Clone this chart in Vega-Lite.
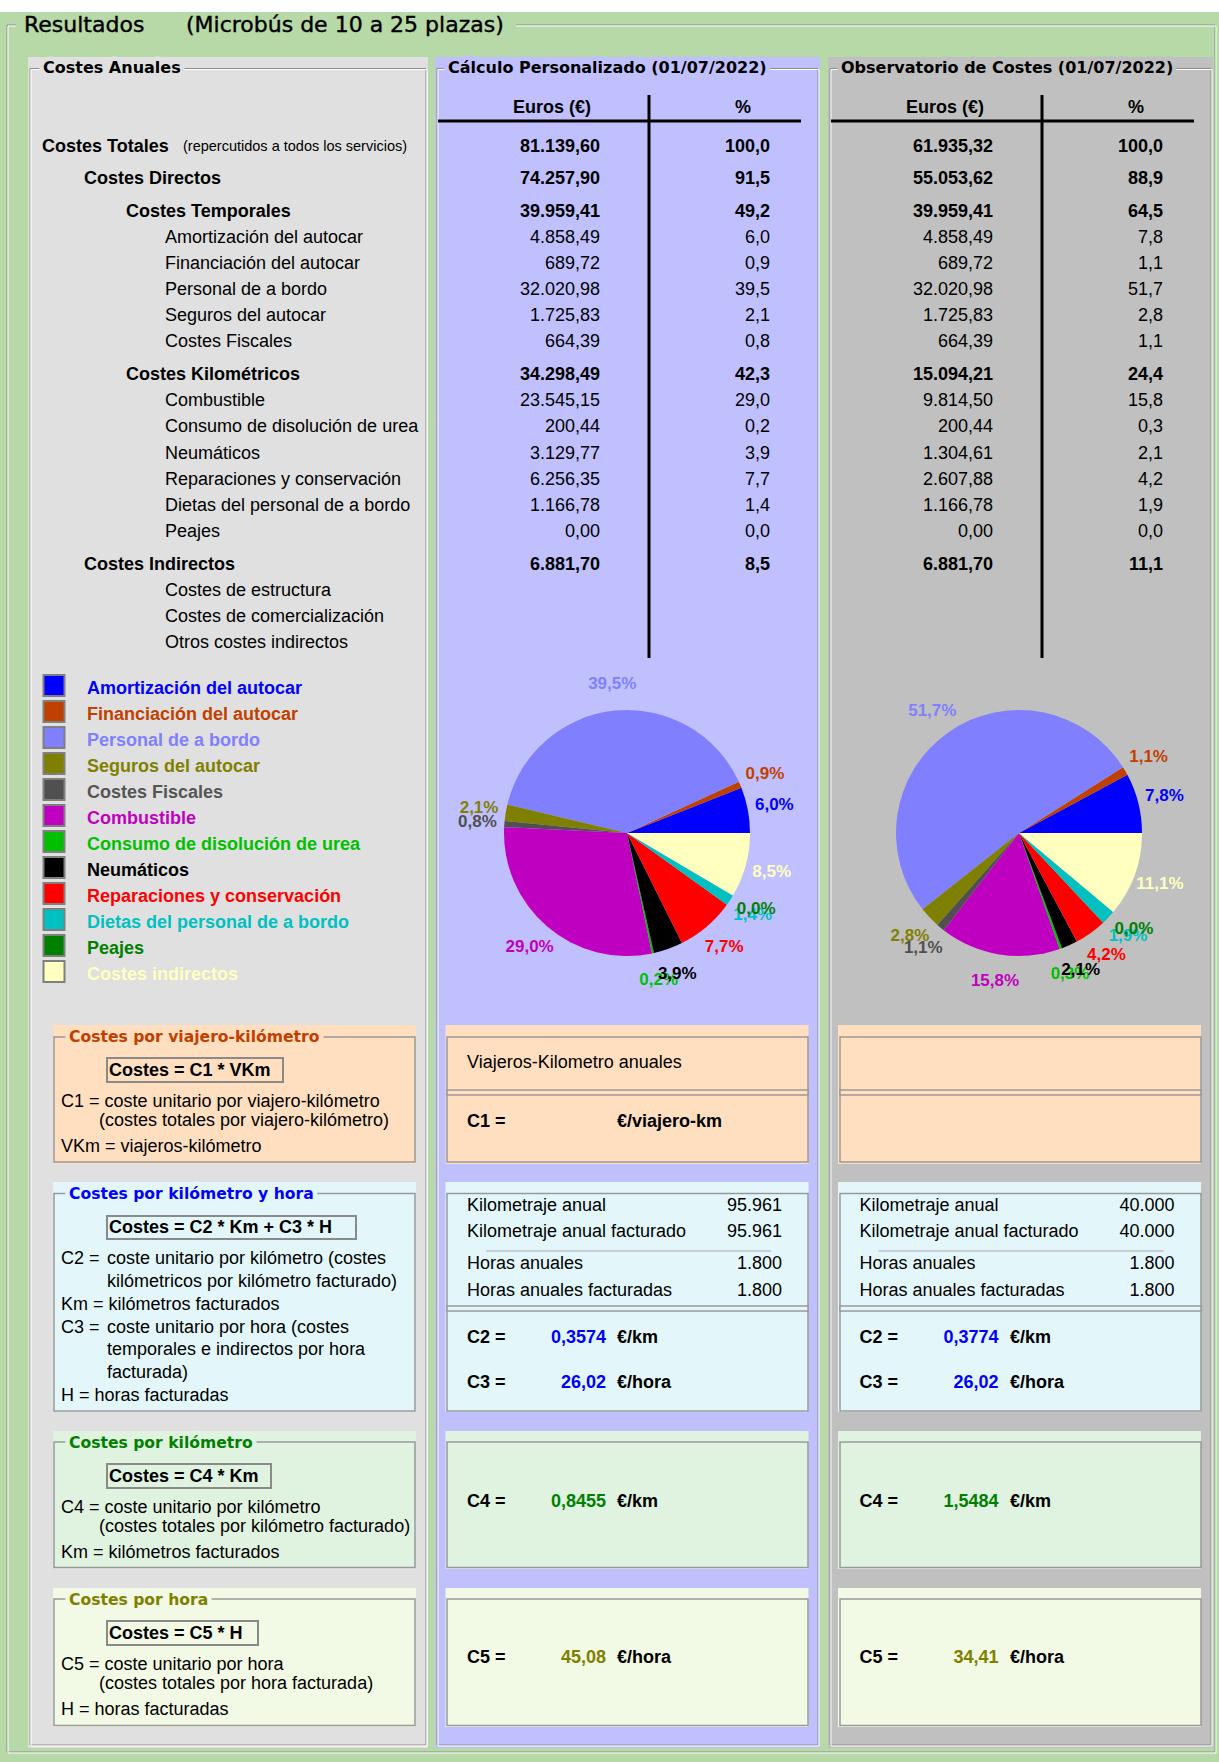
{
  "$schema": "https://vega.github.io/schema/vega-lite/v6.json",
  "width": 1219,
  "height": 1762,
  "padding": 0,
  "autosize": {"type": "none"},
  "background": "#b6d9a7",
  "config": {
    "view": {"stroke": null},
    "axis": {"disable": true},
    "legend": {"disable": true},
    "scale": {"pointPadding": 0},
    "text": {"font": "Liberation Sans", "fontSize": 18, "baseline": "middle"},
    "locale": {"number": {"decimal": ",", "thousands": ".", "grouping": [3], "currency": ["", "%"]}}
  },
  "datasets": {
    "fondo": [{"zona": "formulario"}],
    "titulo": [{"parte": "Resultados"}, {"parte": "(Microbús de 10 a 25 plazas)"}],
    "columnas": [
      {"columna": "anuales", "titulo": "Costes Anuales"},
      {"columna": "calc", "titulo": "Cálculo Personalizado (01/07/2022)"},
      {"columna": "obs", "titulo": "Observatorio de Costes (01/07/2022)"}
    ],
    "paneles": [{"panel": "calc"}, {"panel": "obs"}],
    "encabezados": [
      {"panel": "calc", "medida": "euros", "texto": "Euros (€)"},
      {"panel": "calc", "medida": "pct", "texto": "%"},
      {"panel": "obs", "medida": "euros", "texto": "Euros (€)"},
      {"panel": "obs", "medida": "pct", "texto": "%"}
    ],
    "costes": [
      {"concepto": "Costes Totales", "nivel": 0, "euros_calc": 81139.60, "pct_calc": 100.0, "euros_obs": 61935.32, "pct_obs": 100.0, "nota": "(repercutidos a todos los servicios)"},
      {"concepto": "Costes Directos", "nivel": 1, "euros_calc": 74257.90, "pct_calc": 91.5, "euros_obs": 55053.62, "pct_obs": 88.9},
      {"concepto": "Costes Temporales", "nivel": 2, "euros_calc": 39959.41, "pct_calc": 49.2, "euros_obs": 39959.41, "pct_obs": 64.5},
      {"concepto": "Amortización del autocar", "nivel": 3, "euros_calc": 4858.49, "pct_calc": 6.0, "euros_obs": 4858.49, "pct_obs": 7.8},
      {"concepto": "Financiación del autocar", "nivel": 3, "euros_calc": 689.72, "pct_calc": 0.9, "euros_obs": 689.72, "pct_obs": 1.1},
      {"concepto": "Personal de a bordo", "nivel": 3, "euros_calc": 32020.98, "pct_calc": 39.5, "euros_obs": 32020.98, "pct_obs": 51.7},
      {"concepto": "Seguros del autocar", "nivel": 3, "euros_calc": 1725.83, "pct_calc": 2.1, "euros_obs": 1725.83, "pct_obs": 2.8},
      {"concepto": "Costes Fiscales", "nivel": 3, "euros_calc": 664.39, "pct_calc": 0.8, "euros_obs": 664.39, "pct_obs": 1.1},
      {"concepto": "Costes Kilométricos", "nivel": 2, "euros_calc": 34298.49, "pct_calc": 42.3, "euros_obs": 15094.21, "pct_obs": 24.4},
      {"concepto": "Combustible", "nivel": 3, "euros_calc": 23545.15, "pct_calc": 29.0, "euros_obs": 9814.50, "pct_obs": 15.8},
      {"concepto": "Consumo de disolución de urea", "nivel": 3, "euros_calc": 200.44, "pct_calc": 0.2, "euros_obs": 200.44, "pct_obs": 0.3},
      {"concepto": "Neumáticos", "nivel": 3, "euros_calc": 3129.77, "pct_calc": 3.9, "euros_obs": 1304.61, "pct_obs": 2.1},
      {"concepto": "Reparaciones y conservación", "nivel": 3, "euros_calc": 6256.35, "pct_calc": 7.7, "euros_obs": 2607.88, "pct_obs": 4.2},
      {"concepto": "Dietas del personal de a bordo", "nivel": 3, "euros_calc": 1166.78, "pct_calc": 1.4, "euros_obs": 1166.78, "pct_obs": 1.9},
      {"concepto": "Peajes", "nivel": 3, "euros_calc": 0, "pct_calc": 0.0, "euros_obs": 0, "pct_obs": 0.0},
      {"concepto": "Costes Indirectos", "nivel": 1, "euros_calc": 6881.70, "pct_calc": 8.5, "euros_obs": 6881.70, "pct_obs": 11.1},
      {"concepto": "Costes de estructura", "nivel": 3, "euros_calc": null, "pct_calc": null, "euros_obs": null, "pct_obs": null},
      {"concepto": "Costes de comercialización", "nivel": 3, "euros_calc": null, "pct_calc": null, "euros_obs": null, "pct_obs": null},
      {"concepto": "Otros costes indirectos", "nivel": 3, "euros_calc": null, "pct_calc": null, "euros_obs": null, "pct_obs": null}
    ],
    "sectores": [
      {"categoria": "Amortización del autocar", "orden": 1, "euros_calc": 4858.49, "pct_calc": 6.0, "euros_obs": 4858.49, "pct_obs": 7.8},
      {"categoria": "Financiación del autocar", "orden": 2, "euros_calc": 689.72, "pct_calc": 0.9, "euros_obs": 689.72, "pct_obs": 1.1},
      {"categoria": "Personal de a bordo", "orden": 3, "euros_calc": 32020.98, "pct_calc": 39.5, "euros_obs": 32020.98, "pct_obs": 51.7},
      {"categoria": "Seguros del autocar", "orden": 4, "euros_calc": 1725.83, "pct_calc": 2.1, "euros_obs": 1725.83, "pct_obs": 2.8},
      {"categoria": "Costes Fiscales", "orden": 5, "euros_calc": 664.39, "pct_calc": 0.8, "euros_obs": 664.39, "pct_obs": 1.1},
      {"categoria": "Combustible", "orden": 6, "euros_calc": 23545.15, "pct_calc": 29.0, "euros_obs": 9814.50, "pct_obs": 15.8},
      {"categoria": "Consumo de disolución de urea", "orden": 7, "euros_calc": 200.44, "pct_calc": 0.2, "euros_obs": 200.44, "pct_obs": 0.3},
      {"categoria": "Neumáticos", "orden": 8, "euros_calc": 3129.77, "pct_calc": 3.9, "euros_obs": 1304.61, "pct_obs": 2.1},
      {"categoria": "Reparaciones y conservación", "orden": 9, "euros_calc": 6256.35, "pct_calc": 7.7, "euros_obs": 2607.88, "pct_obs": 4.2},
      {"categoria": "Dietas del personal de a bordo", "orden": 10, "euros_calc": 1166.78, "pct_calc": 1.4, "euros_obs": 1166.78, "pct_obs": 1.9},
      {"categoria": "Peajes", "orden": 11, "euros_calc": 0, "pct_calc": 0.0, "euros_obs": 0, "pct_obs": 0.0},
      {"categoria": "Costes indirectos", "orden": 12, "euros_calc": 6881.70, "pct_calc": 8.5, "euros_obs": 6881.70, "pct_obs": 11.1}
    ],
    "cajas": [
      {"caja": "viajero-km", "columna": "izq"}, {"caja": "viajero-km", "columna": "centro"}, {"caja": "viajero-km", "columna": "der"},
      {"caja": "km-hora", "columna": "izq"}, {"caja": "km-hora", "columna": "centro"}, {"caja": "km-hora", "columna": "der"},
      {"caja": "km", "columna": "izq"}, {"caja": "km", "columna": "centro"}, {"caja": "km", "columna": "der"},
      {"caja": "hora", "columna": "izq"}, {"caja": "hora", "columna": "centro"}, {"caja": "hora", "columna": "der"}
    ],
    "cajas_info": [
      {"caja": "viajero-km", "titulo": "Costes por viajero-kilómetro", "formula": "Costes = C1 * VKm"},
      {"caja": "km-hora", "titulo": "Costes por kilómetro y hora", "formula": "Costes = C2 * Km + C3 * H"},
      {"caja": "km", "titulo": "Costes por kilómetro", "formula": "Costes = C4 * Km"},
      {"caja": "hora", "titulo": "Costes por hora", "formula": "Costes = C5 * H"}
    ],
    "descripciones": [
      {"caja": "viajero-km", "linea": 1, "texto": "C1 = coste unitario por viajero-kilómetro"},
      {"caja": "viajero-km", "linea": 2, "texto": "(costes totales por viajero-kilómetro)"},
      {"caja": "viajero-km", "linea": 3, "texto": "VKm = viajeros-kilómetro"},
      {"caja": "km", "linea": 1, "texto": "C4 = coste unitario por kilómetro"},
      {"caja": "km", "linea": 2, "texto": "(costes totales por kilómetro facturado)"},
      {"caja": "km", "linea": 3, "texto": "Km = kilómetros facturados"},
      {"caja": "hora", "linea": 1, "texto": "C5 = coste unitario por hora"},
      {"caja": "hora", "linea": 2, "texto": "(costes totales por hora facturada)"},
      {"caja": "hora", "linea": 3, "texto": "H = horas facturadas"}
    ],
    "descripcion_km_hora": [
      {"renglon": 1, "sangria": "margen", "texto": "C2 ="},
      {"renglon": 1, "sangria": "definicion", "texto": "coste unitario por kilómetro (costes"},
      {"renglon": 2, "sangria": "definicion", "texto": "kilómetricos por kilómetro facturado)"},
      {"renglon": 3, "sangria": "margen", "texto": "Km = kilómetros facturados"},
      {"renglon": 4, "sangria": "margen", "texto": "C3 ="},
      {"renglon": 4, "sangria": "definicion", "texto": "coste unitario por hora (costes"},
      {"renglon": 5, "sangria": "definicion", "texto": "temporales e indirectos por hora"},
      {"renglon": 6, "sangria": "definicion", "texto": "facturada)"},
      {"renglon": 7, "sangria": "margen", "texto": "H = horas facturadas"}
    ],
    "actividad": [
      {"panel": "calc", "concepto": "Viajeros-Kilometro anuales", "valor": null},
      {"panel": "calc", "concepto": "Kilometraje anual", "valor": 95961},
      {"panel": "calc", "concepto": "Kilometraje anual facturado", "valor": 95961},
      {"panel": "calc", "concepto": "Horas anuales", "valor": 1800},
      {"panel": "calc", "concepto": "Horas anuales facturadas", "valor": 1800},
      {"panel": "obs", "concepto": "Kilometraje anual", "valor": 40000},
      {"panel": "obs", "concepto": "Kilometraje anual facturado", "valor": 40000},
      {"panel": "obs", "concepto": "Horas anuales", "valor": 1800},
      {"panel": "obs", "concepto": "Horas anuales facturadas", "valor": 1800}
    ],
    "costes_unitarios": [
      {"panel": "calc", "coef": "C1", "etiqueta": "C1 =", "valor": null, "unidad": "€/viajero-km"},
      {"panel": "calc", "coef": "C2", "etiqueta": "C2 =", "valor": 0.3574, "unidad": "€/km"},
      {"panel": "calc", "coef": "C3", "etiqueta": "C3 =", "valor": 26.02, "unidad": "€/hora"},
      {"panel": "calc", "coef": "C4", "etiqueta": "C4 =", "valor": 0.8455, "unidad": "€/km"},
      {"panel": "calc", "coef": "C5", "etiqueta": "C5 =", "valor": 45.08, "unidad": "€/hora"},
      {"panel": "obs", "coef": "C2", "etiqueta": "C2 =", "valor": 0.3774, "unidad": "€/km"},
      {"panel": "obs", "coef": "C3", "etiqueta": "C3 =", "valor": 26.02, "unidad": "€/hora"},
      {"panel": "obs", "coef": "C4", "etiqueta": "C4 =", "valor": 1.5484, "unidad": "€/km"},
      {"panel": "obs", "coef": "C5", "etiqueta": "C5 =", "valor": 34.41, "unidad": "€/hora"}
    ]
  },
  "resolve": {"scale": {"x": "independent", "y": "independent", "color": "independent", "fill": "independent", "stroke": "independent", "theta": "independent", "radius": "independent"}},
  "layer": [
    {"data": {"name": "fondo"}, "mark": {"type": "rect", "fill": "#ffffff"},
     "encoding": {"y": {"field": "zona", "type": "nominal", "scale": {"type": "band", "domain": ["formulario"], "range": [0, 12], "paddingInner": 0, "paddingOuter": 0}}}},
    {"data": {"name": "fondo"}, "mark": {"type": "rect", "filled": false, "stroke": "#8c8c8c", "strokeWidth": 1},
     "encoding": {"x": {"field": "zona", "type": "nominal", "scale": {"type": "band", "domain": ["formulario"], "range": [7, 1215], "paddingInner": 0, "paddingOuter": 0}},
                  "y": {"field": "zona", "type": "nominal", "scale": {"type": "band", "domain": ["formulario"], "range": [25, 1752], "paddingInner": 0, "paddingOuter": 0}}}},
    {"data": {"name": "fondo"}, "mark": {"type": "rect", "filled": false, "stroke": "#ffffff", "strokeWidth": 1},
     "encoding": {"x": {"field": "zona", "type": "nominal", "scale": {"type": "band", "domain": ["formulario"], "range": [8, 1216], "paddingInner": 0, "paddingOuter": 0}},
                  "y": {"field": "zona", "type": "nominal", "scale": {"type": "band", "domain": ["formulario"], "range": [26, 1753], "paddingInner": 0, "paddingOuter": 0}}}},
    {"data": {"name": "fondo"}, "mark": {"type": "rect", "fill": "#b6d9a7"},
     "encoding": {"x": {"field": "zona", "type": "nominal", "scale": {"type": "band", "domain": ["formulario"], "range": [16, 516], "paddingInner": 0, "paddingOuter": 0}},
                  "y": {"field": "zona", "type": "nominal", "scale": {"type": "band", "domain": ["formulario"], "range": [14, 37], "paddingInner": 0, "paddingOuter": 0}}}},
    {"data": {"name": "titulo"}, "mark": {"type": "text", "font": "DejaVu Sans", "fontSize": 22, "align": "left", "fill": "#000000", "stroke": "#000000", "strokeWidth": 0.4},
     "encoding": {"x": {"field": "parte", "type": "nominal", "scale": {"type": "point", "padding": 0, "domain": ["Resultados", "(Microbús de 10 a 25 plazas)"], "range": [24, 186]}},
                  "y": {"field": "parte", "type": "nominal", "scale": {"type": "point", "padding": 0, "domain": ["Resultados", "(Microbús de 10 a 25 plazas)"], "range": [25, 25]}},
                  "text": {"field": "parte", "type": "nominal"}}},

    {"data": {"name": "columnas"}, "transform": [{"filter": "datum.columna === 'anuales'"}], "mark": {"type": "rect", "fill": "#e0e0e0"},
     "encoding": {"x": {"field": "columna", "type": "nominal", "scale": {"type": "band", "domain": ["anuales"], "range": [28, 428], "paddingInner": 0, "paddingOuter": 0}},
                  "y": {"datum": "panel", "type": "nominal", "scale": {"type": "band", "domain": ["panel"], "range": [57, 1748], "paddingInner": 0, "paddingOuter": 0}}}},
    {"data": {"name": "columnas"}, "transform": [{"filter": "datum.columna !== 'anuales'"}], "mark": {"type": "rect"},
     "encoding": {"x": {"field": "columna", "type": "nominal", "scale": {"type": "band", "domain": ["calc", "obs"], "range": [435, 1213], "paddingInner": 0.020356, "paddingOuter": 0}},
                  "y": {"datum": "panel", "type": "nominal", "scale": {"type": "band", "domain": ["panel"], "range": [57, 1748], "paddingInner": 0, "paddingOuter": 0}},
                  "fill": {"field": "columna", "type": "nominal", "scale": {"domain": ["calc", "obs"], "range": ["#c0c0ff", "#c0c0c0"]}, "legend": null}}},
    {"data": {"name": "columnas"}, "transform": [{"filter": "datum.columna === 'anuales'"}], "mark": {"type": "rect", "filled": false, "stroke": "#8c8c8c", "strokeWidth": 1},
     "encoding": {"x": {"field": "columna", "type": "nominal", "scale": {"type": "band", "domain": ["anuales"], "range": [30, 426], "paddingInner": 0, "paddingOuter": 0}},
                  "y": {"datum": "marco", "type": "nominal", "scale": {"type": "band", "domain": ["marco"], "range": [68.5, 1745], "paddingInner": 0, "paddingOuter": 0}}}},
    {"data": {"name": "columnas"}, "transform": [{"filter": "datum.columna === 'anuales'"}], "mark": {"type": "rect", "filled": false, "stroke": "#ffffff", "strokeWidth": 1},
     "encoding": {"x": {"field": "columna", "type": "nominal", "scale": {"type": "band", "domain": ["anuales"], "range": [31, 427], "paddingInner": 0, "paddingOuter": 0}},
                  "y": {"datum": "marco", "type": "nominal", "scale": {"type": "band", "domain": ["marco"], "range": [69.5, 1746], "paddingInner": 0, "paddingOuter": 0}}}},
    {"data": {"name": "columnas"}, "transform": [{"filter": "datum.columna !== 'anuales'"}], "mark": {"type": "rect", "filled": false, "stroke": "#8c8c8c", "strokeWidth": 1},
     "encoding": {"x": {"field": "columna", "type": "nominal", "scale": {"type": "band", "domain": ["calc", "obs"], "range": [437, 1211], "paddingInner": 0.030534, "paddingOuter": 0}},
                  "y": {"datum": "marco", "type": "nominal", "scale": {"type": "band", "domain": ["marco"], "range": [68.5, 1745], "paddingInner": 0, "paddingOuter": 0}}}},
    {"data": {"name": "columnas"}, "transform": [{"filter": "datum.columna !== 'anuales'"}], "mark": {"type": "rect", "filled": false, "stroke": "#ffffff", "strokeWidth": 1},
     "encoding": {"x": {"field": "columna", "type": "nominal", "scale": {"type": "band", "domain": ["calc", "obs"], "range": [438, 1212], "paddingInner": 0.030534, "paddingOuter": 0}},
                  "y": {"datum": "marco", "type": "nominal", "scale": {"type": "band", "domain": ["marco"], "range": [69.5, 1746], "paddingInner": 0, "paddingOuter": 0}}}},
    {"data": {"name": "columnas"}, "transform": [{"filter": "datum.columna === 'anuales'"}],
     "encoding": {"x": {"field": "columna", "type": "nominal", "scale": {"type": "point", "padding": 0, "domain": ["anuales"], "range": [43, 43]}},
                  "y": {"field": "columna", "type": "nominal", "scale": {"type": "point", "padding": 0, "domain": ["anuales"], "range": [68, 68]}},
                  "text": {"field": "titulo", "type": "nominal"}},
     "layer": [
       {"mark": {"type": "text", "font": "DejaVu Sans", "fontSize": 16, "fontWeight": "bold", "align": "left", "fill": "#e0e0e0", "stroke": "#e0e0e0", "strokeWidth": 9, "strokeJoin": "round"}},
       {"mark": {"type": "text", "font": "DejaVu Sans", "fontSize": 16, "fontWeight": "bold", "align": "left", "fill": "#000000"}}
     ]},
    {"data": {"name": "columnas"}, "transform": [{"filter": "datum.columna !== 'anuales'"}],
     "encoding": {"x": {"field": "columna", "type": "nominal", "scale": {"type": "point", "padding": 0, "domain": ["calc", "obs"], "range": [448, 841]}},
                  "y": {"field": "columna", "type": "nominal", "scale": {"type": "point", "padding": 0, "domain": ["calc", "obs"], "range": [68, 68]}},
                  "text": {"field": "titulo", "type": "nominal"}},
     "layer": [
       {"mark": {"type": "text", "font": "DejaVu Sans", "fontSize": 16, "fontWeight": "bold", "align": "left", "strokeWidth": 9, "strokeJoin": "round"},
        "encoding": {"fill": {"field": "columna", "type": "nominal", "scale": {"domain": ["calc", "obs"], "range": ["#c0c0ff", "#c0c0c0"]}, "legend": null},
                     "stroke": {"field": "columna", "type": "nominal", "scale": {"domain": ["calc", "obs"], "range": ["#c0c0ff", "#c0c0c0"]}, "legend": null}}},
       {"mark": {"type": "text", "font": "DejaVu Sans", "fontSize": 16, "fontWeight": "bold", "align": "left", "fill": "#000000"}}
     ]},

    {"data": {"name": "encabezados"},
     "encoding": {"y": {"field": "medida", "type": "nominal", "scale": {"type": "point", "padding": 0, "domain": ["euros", "pct"], "range": [108, 108]}},
                  "text": {"field": "texto", "type": "nominal"}},
     "layer": [
       {"transform": [{"filter": "datum.medida === 'euros'"}], "mark": {"type": "text", "fontWeight": "bold", "align": "center"},
        "encoding": {"x": {"field": "panel", "type": "nominal", "scale": {"type": "point", "padding": 0, "domain": ["calc", "obs"], "range": [552, 945]}}}},
       {"transform": [{"filter": "datum.medida === 'pct'"}], "mark": {"type": "text", "fontWeight": "bold", "align": "center"},
        "encoding": {"x": {"field": "panel", "type": "nominal", "scale": {"type": "point", "padding": 0, "domain": ["calc", "obs"], "range": [743, 1136]}}}}
     ],
     "resolve": {"scale": {"x": "independent"}}},
    {"data": {"name": "paneles"}, "mark": {"type": "rect", "fill": "#000000"},
     "encoding": {"x": {"field": "panel", "type": "nominal", "scale": {"type": "band", "domain": ["calc", "obs"], "range": [438, 1194], "paddingInner": 0.076336, "paddingOuter": 0}},
                  "y": {"datum": "cabecera", "type": "nominal", "scale": {"type": "band", "domain": ["cabecera"], "range": [119.5, 122.5], "paddingInner": 0, "paddingOuter": 0}}}},
    {"data": {"name": "paneles"}, "mark": {"type": "rect", "fill": "#000000"},
     "encoding": {"x": {"field": "panel", "type": "nominal", "scale": {"type": "band", "domain": ["calc", "obs"], "range": [647.5, 1043.5], "paddingInner": 0.992366, "paddingOuter": 0}},
                  "y": {"datum": "columna", "type": "nominal", "scale": {"type": "band", "domain": ["columna"], "range": [95, 658], "paddingInner": 0, "paddingOuter": 0}}}},

    {"data": {"name": "costes"},
     "encoding": {"y": {"field": "concepto", "type": "nominal", "scale": {"type": "point", "padding": 0, "range": [146.5, 643], "domain": ["Costes Totales","·1","·2","·3","·4","Costes Directos","·6","·7","·8","·9","Costes Temporales","·11","·12","·13","Amortización del autocar","·15","·16","·17","Financiación del autocar","·19","·20","·21","Personal de a bordo","·23","·24","·25","Seguros del autocar","·27","·28","·29","Costes Fiscales","·31","·32","·33","·34","Costes Kilométricos","·36","·37","·38","Combustible","·40","·41","·42","Consumo de disolución de urea","·44","·45","·46","Neumáticos","·48","·49","·50","Reparaciones y conservación","·52","·53","·54","Dietas del personal de a bordo","·56","·57","·58","Peajes","·60","·61","·62","·63","Costes Indirectos","·65","·66","·67","Costes de estructura","·69","·70","·71","Costes de comercialización","·73","·74","·75","Otros costes indirectos"]}}},
     "layer": [
       {"transform": [{"filter": "datum.nivel < 3"}], "mark": {"type": "text", "fontWeight": "bold", "align": "left"},
        "encoding": {"x": {"field": "nivel", "type": "nominal", "scale": {"type": "point", "padding": 0, "domain": [0, 1, 2], "range": [42, 126]}}, "text": {"field": "concepto", "type": "nominal"}}},
       {"transform": [{"filter": "datum.nivel === 3"}], "mark": {"type": "text", "align": "left"},
        "encoding": {"x": {"field": "nivel", "type": "nominal", "scale": {"type": "point", "padding": 0, "domain": [3], "range": [165, 165]}}, "text": {"field": "concepto", "type": "nominal"}}},
       {"transform": [{"filter": "isValid(datum.nota)"}], "mark": {"type": "text", "align": "left", "fontSize": 14.5},
        "encoding": {"x": {"field": "nota", "type": "nominal", "scale": {"type": "point", "padding": 0, "domain": ["(repercutidos a todos los servicios)"], "range": [183, 183]}}, "text": {"field": "nota", "type": "nominal"}}},
       {"transform": [{"fold": ["euros_calc", "euros_obs"], "as": ["medida", "valor"]}, {"filter": {"field": "valor", "valid": true}}, {"filter": "datum.nivel < 3"}],
        "mark": {"type": "text", "fontWeight": "bold", "align": "right"},
        "encoding": {"x": {"field": "medida", "type": "nominal", "scale": {"type": "point", "padding": 0, "domain": ["euros_calc", "euros_obs"], "range": [600, 993]}}, "text": {"field": "valor", "type": "quantitative", "format": ",.2f"}}},
       {"transform": [{"fold": ["euros_calc", "euros_obs"], "as": ["medida", "valor"]}, {"filter": {"field": "valor", "valid": true}}, {"filter": "datum.nivel === 3"}],
        "mark": {"type": "text", "align": "right"},
        "encoding": {"x": {"field": "medida", "type": "nominal", "scale": {"type": "point", "padding": 0, "domain": ["euros_calc", "euros_obs"], "range": [600, 993]}}, "text": {"field": "valor", "type": "quantitative", "format": ",.2f"}}},
       {"transform": [{"fold": ["pct_calc", "pct_obs"], "as": ["medida", "valor"]}, {"filter": {"field": "valor", "valid": true}}, {"filter": "datum.nivel < 3"}],
        "mark": {"type": "text", "fontWeight": "bold", "align": "right"},
        "encoding": {"x": {"field": "medida", "type": "nominal", "scale": {"type": "point", "padding": 0, "domain": ["pct_calc", "pct_obs"], "range": [770, 1163]}}, "text": {"field": "valor", "type": "quantitative", "format": ".1f"}}},
       {"transform": [{"fold": ["pct_calc", "pct_obs"], "as": ["medida", "valor"]}, {"filter": {"field": "valor", "valid": true}}, {"filter": "datum.nivel === 3"}],
        "mark": {"type": "text", "align": "right"},
        "encoding": {"x": {"field": "medida", "type": "nominal", "scale": {"type": "point", "padding": 0, "domain": ["pct_calc", "pct_obs"], "range": [770, 1163]}}, "text": {"field": "valor", "type": "quantitative", "format": ".1f"}}}
     ],
     "resolve": {"scale": {"x": "independent"}}},

    {"data": {"name": "sectores"}, "mark": {"type": "square", "size": 441, "opacity": 1, "filled": true, "stroke": "#7f7f7f", "strokeWidth": 2},
     "encoding": {"x": {"datum": "leyenda", "type": "nominal", "scale": {"type": "point", "padding": 0, "domain": ["leyenda"], "range": [54, 54]}},
                  "y": {"field": "categoria", "type": "nominal", "scale": {"type": "point", "padding": 0, "range": [685.5, 971.5], "domain": ["Amortización del autocar","Financiación del autocar","Personal de a bordo","Seguros del autocar","Costes Fiscales","Combustible","Consumo de disolución de urea","Neumáticos","Reparaciones y conservación","Dietas del personal de a bordo","Peajes","Costes indirectos"]}},
                  "fill": {"field": "categoria", "type": "nominal", "legend": null, "scale": {"domain": ["Amortización del autocar","Financiación del autocar","Personal de a bordo","Seguros del autocar","Costes Fiscales","Combustible","Consumo de disolución de urea","Neumáticos","Reparaciones y conservación","Dietas del personal de a bordo","Peajes","Costes indirectos"], "range": ["#0000ff","#c04000","#8080ff","#808000","#505050","#c000c0","#00c000","#000000","#ff0000","#00c0c0","#008000","#ffffc0"]}}}},
    {"data": {"name": "sectores"}, "mark": {"type": "text", "fontWeight": "bold", "align": "left"},
     "encoding": {"x": {"datum": "leyenda", "type": "nominal", "scale": {"type": "point", "padding": 0, "domain": ["leyenda"], "range": [87, 87]}},
                  "y": {"field": "categoria", "type": "nominal", "scale": {"type": "point", "padding": 0, "range": [689, 975], "domain": ["Amortización del autocar","Financiación del autocar","Personal de a bordo","Seguros del autocar","Costes Fiscales","Combustible","Consumo de disolución de urea","Neumáticos","Reparaciones y conservación","Dietas del personal de a bordo","Peajes","Costes indirectos"]}},
                  "text": {"field": "categoria", "type": "nominal"},
                  "color": {"field": "categoria", "type": "nominal", "legend": null, "scale": {"domain": ["Amortización del autocar","Financiación del autocar","Personal de a bordo","Seguros del autocar","Costes Fiscales","Combustible","Consumo de disolución de urea","Neumáticos","Reparaciones y conservación","Dietas del personal de a bordo","Peajes","Costes indirectos"], "range": ["#0000ff","#c04000","#8080ff","#808000","#555555","#c000c0","#00c000","#000000","#ff0000","#00c0c0","#008000","#ffffc0"]}}}},

    {"data": {"name": "sectores"},
     "encoding": {"theta": {"field": "euros_calc", "type": "quantitative", "stack": "normalize", "scale": {"type": "linear", "domain": [0, 1], "range": [1.5707963, -4.712389]}},
                  "order": {"field": "orden", "type": "quantitative"},
                  "color": {"field": "categoria", "type": "nominal", "legend": null, "scale": {"domain": ["Amortización del autocar","Financiación del autocar","Personal de a bordo","Seguros del autocar","Costes Fiscales","Combustible","Consumo de disolución de urea","Neumáticos","Reparaciones y conservación","Dietas del personal de a bordo","Peajes","Costes indirectos"], "range": ["#0000ff","#c04000","#8080ff","#808000","#505050","#c000c0","#00c000","#000000","#ff0000","#00c0c0","#008000","#ffffc0"]}},
                  "x": {"datum": "calc", "type": "nominal", "scale": {"type": "point", "padding": 0, "domain": ["calc"], "range": [627, 627]}},
                  "y": {"datum": "tarta", "type": "nominal", "scale": {"type": "point", "padding": 0, "domain": ["tarta"], "range": [833, 833]}}},
     "layer": [
       {"mark": {"type": "arc", "outerRadius": 123}},
       {"mark": {"type": "text", "radius": 150, "fontSize": 17, "fontWeight": "bold", "align": "center"},
        "encoding": {"text": {"field": "pct_calc", "type": "quantitative", "format": "$.1f"}}}
     ]},
    {"data": {"name": "sectores"},
     "encoding": {"theta": {"field": "euros_obs", "type": "quantitative", "stack": "normalize", "scale": {"type": "linear", "domain": [0, 1], "range": [1.5707963, -4.712389]}},
                  "order": {"field": "orden", "type": "quantitative"},
                  "color": {"field": "categoria", "type": "nominal", "legend": null, "scale": {"domain": ["Amortización del autocar","Financiación del autocar","Personal de a bordo","Seguros del autocar","Costes Fiscales","Combustible","Consumo de disolución de urea","Neumáticos","Reparaciones y conservación","Dietas del personal de a bordo","Peajes","Costes indirectos"], "range": ["#0000ff","#c04000","#8080ff","#808000","#505050","#c000c0","#00c000","#000000","#ff0000","#00c0c0","#008000","#ffffc0"]}},
                  "x": {"datum": "obs", "type": "nominal", "scale": {"type": "point", "padding": 0, "domain": ["obs"], "range": [1019, 1019]}},
                  "y": {"datum": "tarta", "type": "nominal", "scale": {"type": "point", "padding": 0, "domain": ["tarta"], "range": [833, 833]}}},
     "layer": [
       {"mark": {"type": "arc", "outerRadius": 123}},
       {"mark": {"type": "text", "radius": 150, "fontSize": 17, "fontWeight": "bold", "align": "center"},
        "encoding": {"text": {"field": "pct_obs", "type": "quantitative", "format": "$.1f"}}}
     ]},

    {"data": {"name": "cajas"}, "transform": [{"filter": "datum.caja === 'viajero-km'"}], "mark": {"type": "rect", "fill": "#ffdfc0"},
     "encoding": {"x": {"field": "columna", "type": "nominal", "scale": {"type": "band", "domain": ["izq", "centro", "der"], "range": [53, 1201], "paddingInner": 0.07516, "paddingOuter": 0}},
                  "y": {"field": "caja", "type": "nominal", "scale": {"type": "band", "domain": ["viajero-km"], "range": [1025, 1164], "paddingInner": 0, "paddingOuter": 0}}}},
    {"data": {"name": "cajas"}, "transform": [{"filter": "datum.caja === 'km-hora'"}], "mark": {"type": "rect", "fill": "#e3f7fb"},
     "encoding": {"x": {"field": "columna", "type": "nominal", "scale": {"type": "band", "domain": ["izq", "centro", "der"], "range": [53, 1201], "paddingInner": 0.07516, "paddingOuter": 0}},
                  "y": {"field": "caja", "type": "nominal", "scale": {"type": "band", "domain": ["km-hora"], "range": [1182, 1412], "paddingInner": 0, "paddingOuter": 0}}}},
    {"data": {"name": "cajas"}, "transform": [{"filter": "datum.caja === 'km'"}], "mark": {"type": "rect", "fill": "#e0f2e0"},
     "encoding": {"x": {"field": "columna", "type": "nominal", "scale": {"type": "band", "domain": ["izq", "centro", "der"], "range": [53, 1201], "paddingInner": 0.07516, "paddingOuter": 0}},
                  "y": {"field": "caja", "type": "nominal", "scale": {"type": "band", "domain": ["km"], "range": [1431, 1569], "paddingInner": 0, "paddingOuter": 0}}}},
    {"data": {"name": "cajas"}, "transform": [{"filter": "datum.caja === 'hora'"}], "mark": {"type": "rect", "fill": "#f2f9e4"},
     "encoding": {"x": {"field": "columna", "type": "nominal", "scale": {"type": "band", "domain": ["izq", "centro", "der"], "range": [53, 1201], "paddingInner": 0.07516, "paddingOuter": 0}},
                  "y": {"field": "caja", "type": "nominal", "scale": {"type": "band", "domain": ["hora"], "range": [1588, 1727], "paddingInner": 0, "paddingOuter": 0}}}},

    {"data": {"name": "cajas"}, "transform": [{"filter": "datum.caja === 'viajero-km'"}], "mark": {"type": "rect", "filled": false, "stroke": "#999999", "strokeWidth": 1.5},
     "encoding": {"x": {"field": "columna", "type": "nominal", "scale": {"type": "band", "domain": ["izq", "centro", "der"], "range": [54, 1201], "paddingInner": 0.081425, "paddingOuter": 0}},
                  "y": {"field": "caja", "type": "nominal", "scale": {"type": "band", "domain": ["viajero-km"], "range": [1037, 1162], "paddingInner": 0, "paddingOuter": 0}}}},
    {"data": {"name": "cajas"}, "transform": [{"filter": "datum.caja === 'km-hora'"}], "mark": {"type": "rect", "filled": false, "stroke": "#999999", "strokeWidth": 1.5},
     "encoding": {"x": {"field": "columna", "type": "nominal", "scale": {"type": "band", "domain": ["izq", "centro", "der"], "range": [54, 1201], "paddingInner": 0.081425, "paddingOuter": 0}},
                  "y": {"field": "caja", "type": "nominal", "scale": {"type": "band", "domain": ["km-hora"], "range": [1193.5, 1411], "paddingInner": 0, "paddingOuter": 0}}}},
    {"data": {"name": "cajas"}, "transform": [{"filter": "datum.caja === 'km'"}], "mark": {"type": "rect", "filled": false, "stroke": "#999999", "strokeWidth": 1.5},
     "encoding": {"x": {"field": "columna", "type": "nominal", "scale": {"type": "band", "domain": ["izq", "centro", "der"], "range": [54, 1201], "paddingInner": 0.081425, "paddingOuter": 0}},
                  "y": {"field": "caja", "type": "nominal", "scale": {"type": "band", "domain": ["km"], "range": [1442, 1567.5], "paddingInner": 0, "paddingOuter": 0}}}},
    {"data": {"name": "cajas"}, "transform": [{"filter": "datum.caja === 'hora'"}], "mark": {"type": "rect", "filled": false, "stroke": "#999999", "strokeWidth": 1.5},
     "encoding": {"x": {"field": "columna", "type": "nominal", "scale": {"type": "band", "domain": ["izq", "centro", "der"], "range": [54, 1201], "paddingInner": 0.081425, "paddingOuter": 0}},
                  "y": {"field": "caja", "type": "nominal", "scale": {"type": "band", "domain": ["hora"], "range": [1599, 1725.5], "paddingInner": 0, "paddingOuter": 0}}}},
    {"data": {"name": "paneles"}, "mark": {"type": "rect", "fill": "#ffdfc0", "stroke": "#999999", "strokeWidth": 1.5},
     "encoding": {"x": {"field": "panel", "type": "nominal", "scale": {"type": "band", "domain": ["calc", "obs"], "range": [447, 1201], "paddingInner": 0.081425, "paddingOuter": 0}},
                  "y": {"datum": "separacion", "type": "nominal", "scale": {"type": "band", "domain": ["separacion"], "range": [1090, 1095], "paddingInner": 0, "paddingOuter": 0}}}},
    {"data": {"name": "paneles"}, "mark": {"type": "rect", "fill": "#e3f7fb", "stroke": "#999999", "strokeWidth": 1.5},
     "encoding": {"x": {"field": "panel", "type": "nominal", "scale": {"type": "band", "domain": ["calc", "obs"], "range": [447, 1201], "paddingInner": 0.081425, "paddingOuter": 0}},
                  "y": {"datum": "separacion", "type": "nominal", "scale": {"type": "band", "domain": ["separacion"], "range": [1306, 1311], "paddingInner": 0, "paddingOuter": 0}}}},

    {"data": {"name": "cajas_info"}, "transform": [{"filter": "datum.caja === 'viajero-km'"}], "mark": {"type": "rect", "filled": false, "stroke": "#8a8a8a", "strokeWidth": 2},
     "encoding": {"x": {"field": "caja", "type": "nominal", "scale": {"type": "band", "domain": ["viajero-km"], "range": [107, 283], "paddingInner": 0, "paddingOuter": 0}},
                  "y": {"field": "caja", "type": "nominal", "scale": {"type": "band", "domain": ["viajero-km"], "range": [1058, 1082], "paddingInner": 0, "paddingOuter": 0}}}},
    {"data": {"name": "cajas_info"}, "transform": [{"filter": "datum.caja === 'km-hora'"}], "mark": {"type": "rect", "filled": false, "stroke": "#8a8a8a", "strokeWidth": 2},
     "encoding": {"x": {"field": "caja", "type": "nominal", "scale": {"type": "band", "domain": ["km-hora"], "range": [107, 356], "paddingInner": 0, "paddingOuter": 0}},
                  "y": {"field": "caja", "type": "nominal", "scale": {"type": "band", "domain": ["km-hora"], "range": [1216, 1239], "paddingInner": 0, "paddingOuter": 0}}}},
    {"data": {"name": "cajas_info"}, "transform": [{"filter": "datum.caja === 'km'"}], "mark": {"type": "rect", "filled": false, "stroke": "#8a8a8a", "strokeWidth": 2},
     "encoding": {"x": {"field": "caja", "type": "nominal", "scale": {"type": "band", "domain": ["km"], "range": [107, 271], "paddingInner": 0, "paddingOuter": 0}},
                  "y": {"field": "caja", "type": "nominal", "scale": {"type": "band", "domain": ["km"], "range": [1464, 1488], "paddingInner": 0, "paddingOuter": 0}}}},
    {"data": {"name": "cajas_info"}, "transform": [{"filter": "datum.caja === 'hora'"}], "mark": {"type": "rect", "filled": false, "stroke": "#8a8a8a", "strokeWidth": 2},
     "encoding": {"x": {"field": "caja", "type": "nominal", "scale": {"type": "band", "domain": ["hora"], "range": [107, 258], "paddingInner": 0, "paddingOuter": 0}},
                  "y": {"field": "caja", "type": "nominal", "scale": {"type": "band", "domain": ["hora"], "range": [1621, 1645], "paddingInner": 0, "paddingOuter": 0}}}},

    {"data": {"name": "cajas_info"},
     "encoding": {"x": {"field": "caja", "type": "nominal", "scale": {"type": "point", "padding": 0, "domain": ["viajero-km", "km-hora", "km", "hora"], "range": [69, 69]}},
                  "y": {"field": "caja", "type": "nominal", "scale": {"type": "point", "padding": 0, "range": [1037, 1600], "domain": ["viajero-km","·1","·2","·3","·4","·5","·6","·7","·8","·9","·10","·11","km-hora","·13","·14","·15","·16","·17","·18","·19","·20","·21","·22","·23","·24","·25","·26","·27","·28","·29","·30","km","·32","·33","·34","·35","·36","·37","·38","·39","·40","·41","·42","hora"]}},
                  "text": {"field": "titulo", "type": "nominal"}},
     "layer": [
       {"mark": {"type": "text", "font": "DejaVu Sans", "fontSize": 15.6, "fontWeight": "bold", "align": "left", "strokeWidth": 9, "strokeJoin": "round"},
        "encoding": {"fill": {"field": "caja", "type": "nominal", "legend": null, "scale": {"domain": ["viajero-km", "km-hora", "km", "hora"], "range": ["#ffdfc0", "#e3f7fb", "#e0f2e0", "#f2f9e4"]}},
                     "stroke": {"field": "caja", "type": "nominal", "legend": null, "scale": {"domain": ["viajero-km", "km-hora", "km", "hora"], "range": ["#ffdfc0", "#e3f7fb", "#e0f2e0", "#f2f9e4"]}}}},
       {"mark": {"type": "text", "font": "DejaVu Sans", "fontSize": 15.6, "fontWeight": "bold", "align": "left"},
        "encoding": {"fill": {"field": "caja", "type": "nominal", "legend": null, "scale": {"domain": ["viajero-km", "km-hora", "km", "hora"], "range": ["#c04000", "#0000ff", "#008000", "#808000"]}}}}
     ],
     "resolve": {"scale": {"fill": "independent", "stroke": "independent"}}},
    {"data": {"name": "cajas_info"}, "mark": {"type": "text", "fontWeight": "bold", "align": "left"},
     "encoding": {"x": {"field": "caja", "type": "nominal", "scale": {"type": "point", "padding": 0, "domain": ["viajero-km", "km-hora", "km", "hora"], "range": [109, 109]}},
                  "y": {"field": "caja", "type": "nominal", "scale": {"type": "point", "padding": 0, "range": [1071, 1634], "domain": ["viajero-km","·1","·2","·3","·4","·5","·6","·7","·8","·9","·10","·11","km-hora","·13","·14","·15","·16","·17","·18","·19","·20","·21","·22","·23","·24","·25","·26","·27","·28","·29","·30","km","·32","·33","·34","·35","·36","·37","·38","·39","·40","·41","·42","hora"]}},
                  "text": {"field": "formula", "type": "nominal"}}},

    {"data": {"name": "descripciones"}, "transform": [{"filter": "datum.linea === 1"}], "mark": {"type": "text", "align": "left"},
     "encoding": {"x": {"field": "linea", "type": "nominal", "scale": {"type": "point", "padding": 0, "domain": [1], "range": [61, 61]}},
                  "y": {"field": "caja", "type": "nominal", "scale": {"type": "point", "padding": 0, "range": [1102, 1665], "domain": ["viajero-km","·1","·2","·3","·4","·5","·6","·7","·8","·9","·10","·11","km-hora","·13","·14","·15","·16","·17","·18","·19","·20","·21","·22","·23","·24","·25","·26","·27","·28","·29","·30","km","·32","·33","·34","·35","·36","·37","·38","·39","·40","·41","·42","hora"]}},
                  "text": {"field": "texto", "type": "nominal"}}},
    {"data": {"name": "descripciones"}, "transform": [{"filter": "datum.linea === 2"}], "mark": {"type": "text", "align": "left"},
     "encoding": {"x": {"field": "linea", "type": "nominal", "scale": {"type": "point", "padding": 0, "domain": [2], "range": [99, 99]}},
                  "y": {"field": "caja", "type": "nominal", "scale": {"type": "point", "padding": 0, "range": [1121, 1684], "domain": ["viajero-km","·1","·2","·3","·4","·5","·6","·7","·8","·9","·10","·11","km-hora","·13","·14","·15","·16","·17","·18","·19","·20","·21","·22","·23","·24","·25","·26","·27","·28","·29","·30","km","·32","·33","·34","·35","·36","·37","·38","·39","·40","·41","·42","hora"]}},
                  "text": {"field": "texto", "type": "nominal"}}},
    {"data": {"name": "descripciones"}, "transform": [{"filter": "datum.linea === 3"}], "mark": {"type": "text", "align": "left"},
     "encoding": {"x": {"field": "linea", "type": "nominal", "scale": {"type": "point", "padding": 0, "domain": [3], "range": [61, 61]}},
                  "y": {"field": "caja", "type": "nominal", "scale": {"type": "point", "padding": 0, "range": [1147, 1710], "domain": ["viajero-km","·1","·2","·3","·4","·5","·6","·7","·8","·9","·10","·11","km-hora","·13","·14","·15","·16","·17","·18","·19","·20","·21","·22","·23","·24","·25","·26","·27","·28","·29","·30","km","·32","·33","·34","·35","·36","·37","·38","·39","·40","·41","·42","hora"]}},
                  "text": {"field": "texto", "type": "nominal"}}},
    {"data": {"name": "descripcion_km_hora"}, "mark": {"type": "text", "align": "left"},
     "encoding": {"x": {"field": "sangria", "type": "nominal", "scale": {"type": "point", "padding": 0, "domain": ["margen", "definicion"], "range": [61, 107]}},
                  "y": {"field": "renglon", "type": "nominal", "scale": {"type": "point", "padding": 0, "domain": [1, 2, 3, 4, 5, 6, 7], "range": [1259, 1396]}},
                  "text": {"field": "texto", "type": "nominal"}}},

    {"data": {"name": "paneles"}, "mark": {"type": "rect", "fill": "#c6ced4"},
     "encoding": {"x": {"field": "panel", "type": "nominal", "scale": {"type": "band", "domain": ["calc", "obs"], "range": [486, 1163.5], "paddingInner": 0.27389, "paddingOuter": 0}},
                  "y": {"datum": "linea", "type": "nominal", "scale": {"type": "band", "domain": ["linea"], "range": [1250, 1252], "paddingInner": 0, "paddingOuter": 0}}}},
    {"data": {"name": "actividad"},
     "encoding": {"y": {"field": "concepto", "type": "nominal", "scale": {"type": "point", "padding": 0, "range": [1062.5, 1290.5], "domain": ["Viajeros-Kilometro anuales","·1","·2","·3","·4","·5","·6","·7","·8","·9","·10","·11","·12","·13","·14","·15","·16","·17","·18","·19","·20","·21","Kilometraje anual","·23","·24","·25","Kilometraje anual facturado","·27","·28","·29","·30","Horas anuales","·32","·33","·34","Horas anuales facturadas"]}}},
     "layer": [
       {"mark": {"type": "text", "align": "left"},
        "encoding": {"x": {"field": "panel", "type": "nominal", "scale": {"type": "point", "padding": 0, "domain": ["calc", "obs"], "range": [467, 859.5]}}, "text": {"field": "concepto", "type": "nominal"}}},
       {"transform": [{"filter": {"field": "valor", "valid": true}}], "mark": {"type": "text", "align": "right"},
        "encoding": {"x": {"field": "panel", "type": "nominal", "scale": {"type": "point", "padding": 0, "domain": ["calc", "obs"], "range": [782, 1174.5]}}, "text": {"field": "valor", "type": "quantitative", "format": ",d"}}}
     ],
     "resolve": {"scale": {"x": "independent"}}},
    {"data": {"name": "costes_unitarios"},
     "encoding": {"y": {"field": "coef", "type": "nominal", "scale": {"type": "point", "padding": 0, "range": [1122, 1658], "domain": ["C1","·1","·2","·3","·4","·5","·6","·7","·8","·9","·10","·11","·12","·13","·14","·15","·16","·17","·18","·19","·20","·21","·22","·23","·24","·25","·26","·27","·28","C2","·30","·31","·32","·33","·34","C3","·36","·37","·38","·39","·40","·41","·42","·43","·44","·45","·46","·47","·48","·49","·50","C4","·52","·53","·54","·55","·56","·57","·58","·59","·60","·61","·62","·63","·64","·65","·66","·67","·68","·69","·70","·71","C5"]}}},
     "layer": [
       {"mark": {"type": "text", "align": "left", "fontWeight": "bold"},
        "encoding": {"x": {"field": "panel", "type": "nominal", "scale": {"type": "point", "padding": 0, "domain": ["calc", "obs"], "range": [467, 859.5]}}, "text": {"field": "etiqueta", "type": "nominal"}}},
       {"transform": [{"filter": {"field": "valor", "valid": true}}], "mark": {"type": "text", "align": "right", "fontWeight": "bold"},
        "encoding": {"x": {"field": "panel", "type": "nominal", "scale": {"type": "point", "padding": 0, "domain": ["calc", "obs"], "range": [606, 998.5]}},
                     "text": {"field": "valor", "type": "quantitative", "format": ".4~f"},
                     "color": {"field": "coef", "type": "nominal", "legend": null, "scale": {"domain": ["C1", "C2", "C3", "C4", "C5"], "range": ["#000000", "#0000ff", "#0000ff", "#008000", "#808000"]}}}},
       {"mark": {"type": "text", "align": "left", "fontWeight": "bold"},
        "encoding": {"x": {"field": "panel", "type": "nominal", "scale": {"type": "point", "padding": 0, "domain": ["calc", "obs"], "range": [617, 1010]}}, "text": {"field": "unidad", "type": "nominal"}}}
     ],
     "resolve": {"scale": {"x": "independent"}}}
  ]
}
